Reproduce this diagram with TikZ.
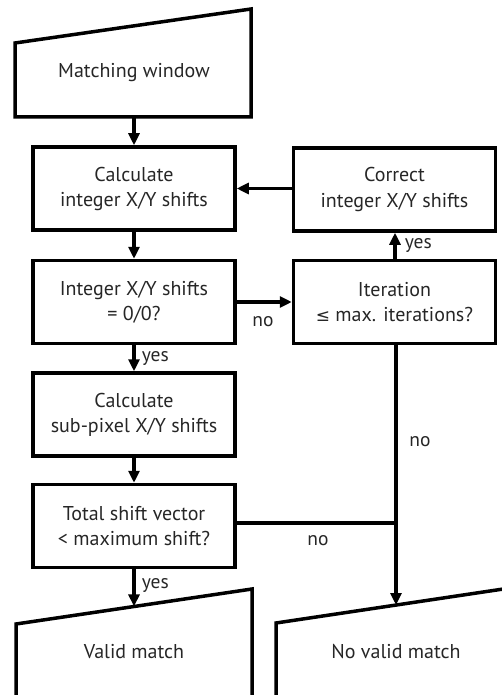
\documentclass[tikz,border=0pt]{standalone}
\usepackage{fontspec}
\setmainfont{PT Sans}
\newfontfamily\symfont{DejaVu Sans}
\usetikzlibrary{arrows.meta,calc}
\begin{document}
\begin{tikzpicture}[x=1pt,y=-1pt,
  line width=3.5pt,
  txt/.style={font=\fontsize{20}{25}\selectfont, text=black!85, align=center},
  procbox/.style={draw, line width=3.5pt, minimum width=202pt, minimum height=83pt, inner sep=0pt, txt},
  lbl/.style={font=\fontsize{19.5}{20}\selectfont, text=black!85, inner sep=1pt},
  arr/.style={-{Triangle[length=12pt,width=11pt]}, line width=3.5pt},
  ln/.style={line width=3.5pt}]
\useasboundingbox (0,0) rectangle (502,695);
\clip (0,0) rectangle (502,695);
% trapezoids
\draw[ln] (15,43) coordinate (mwtl) -- (251,9) coordinate (mwtr) -- (251,117) -- (15,117) -- cycle;
\node[txt] (mw) at (134,73) {Matching window};
\coordinate (mwb) at (134,117);
\draw[ln] (16,700) -- (16,624) coordinate (vtl) -- (252,589) coordinate (vtr) -- (252,700);
\node[txt] (vm) at (134,652) {Valid match};
\draw[ln] (276,700) -- (276,623) coordinate (ntl) -- (530,585) coordinate (ntr) -- (530,700);
\node[txt] (nvm) at (396,652) {No valid match};
\coordinate (vmt) at (134,606.4);
\coordinate (nvmt) at (396,605);
% boxes
\node[procbox] (calc) at (134,188.5) {Calculate\\integer X/Y shifts};
\node[procbox] (int) at (134,302) {Integer X/Y shifts\\= 0/0?};
\node[procbox] (sub) at (134,414.5) {Calculate\\sub-pixel X/Y shifts};
\node[procbox] (tot) at (134,526) {Total shift vector\\< maximum shift?};
\node[procbox] (cor) at (394.5,189.5) {Correct\\integer X/Y shifts};
\node[procbox] (it) at (394.5,302) {Iteration\\{\symfont\fontsize{17}{25}\selectfont ≤} max. iterations?};
% connectors
\draw[arr] (mwb) -- (calc.north);
\draw[arr] (calc) -- (int);
\draw[arr] (int) -- node[lbl, right=5pt] {yes} (sub);
\draw[arr] (sub) -- (tot);
\draw[arr] (tot.south) -- node[lbl, right=5pt, pos=0.45] {yes} (vmt);
\draw[arr] (cor.west |- calc.east) -- (calc.east);
\draw[arr] (it.north -| 395,0) -- node[lbl, right=7pt] {yes} (cor.south -| 395,0);
\draw[arr] (int.east) -- (it.west);
\node[lbl] (no1) at (263,322) {no};
\coordinate (join) at (396,523);
\draw[arr] (it.south -| join) -- (nvmt);
\node[lbl] (no2) at (420,442) {no};
\draw[ln] (tot.east |- join) -- (join);
\node[lbl] (no3) at (318,541) {no};
\end{tikzpicture}
\end{document}
